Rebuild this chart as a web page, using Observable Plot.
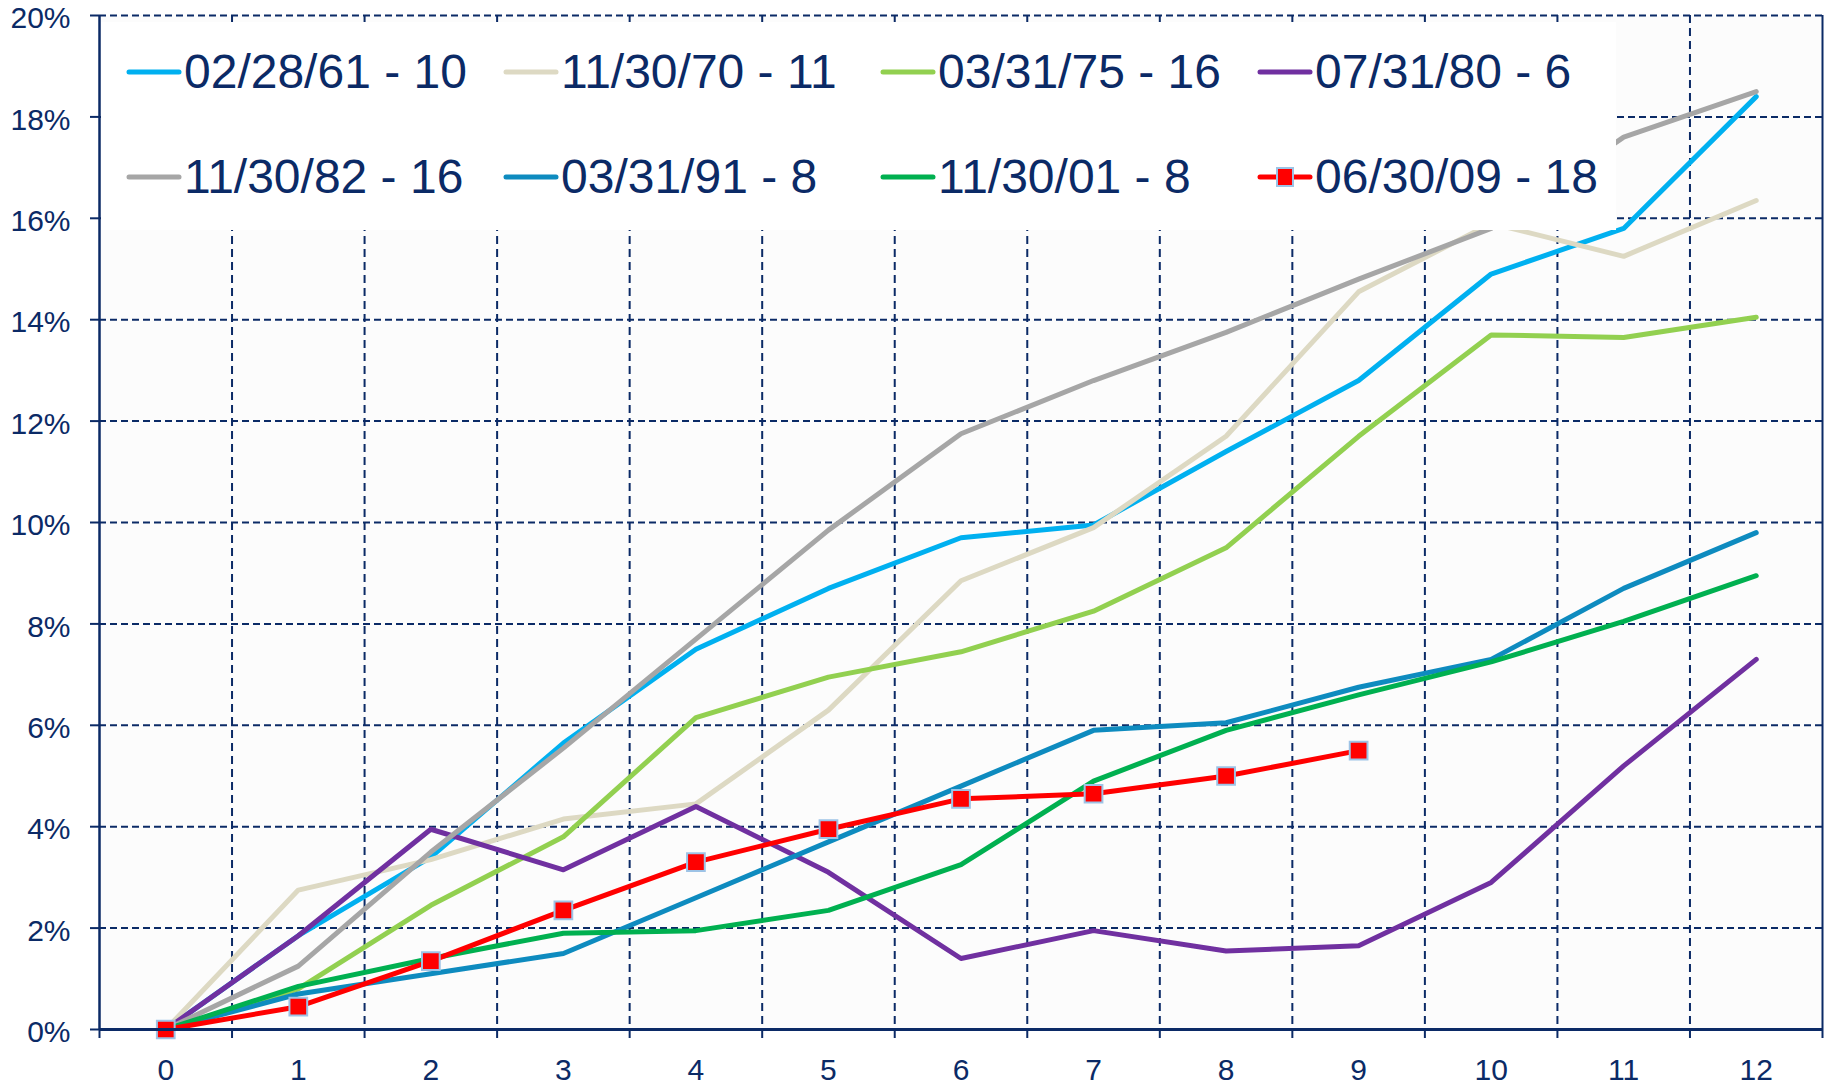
<!DOCTYPE html>
<html><head><meta charset="utf-8">
<script src="https://cdn.jsdelivr.net/npm/d3@7"></script>
<script src="https://cdn.jsdelivr.net/npm/@observablehq/plot@0.6"></script>
<style>
body{margin:0;background:#fff;font-family:"Liberation Sans",Arial,sans-serif;}
#wrap{position:relative;width:1829px;height:1085px;overflow:hidden;background:#fff}
#legend{position:absolute;left:101px;top:22px;width:1515px;height:208px;background:#fff;}
.item{position:absolute;display:flex;align-items:center;height:60px;font-size:48px;color:#0b2a66;white-space:nowrap;line-height:1}
.item svg{display:block;margin-right:1px}
</style></head><body><div id="wrap"></div>
<script>
// ---- data ----
const categories = [0,1,2,3,4,5,6,7,8,9,10,11,12];
const yTicks = [0,2,4,6,8,10,12,14,16,18,20];
const seriesNames = ["02/28/61 - 10","11/30/70 - 11","03/31/75 - 16","07/31/80 - 6","11/30/82 - 16","03/31/91 - 8","11/30/01 - 8","06/30/09 - 18"];
const seriesColors = ["#00b0f0","#ddd9c3","#92d050","#7030a0","#a6a6a6","#0e8bbf","#00b050","#ff0000"];
const s1961 = [0,1.85,3.4,5.65,7.5,8.7,9.7,9.95,11.4,12.8,14.9,15.8,18.4];
const s1970 = [0,2.75,3.35,4.15,4.45,6.3,8.85,9.9,11.7,14.55,15.9,15.25,16.35];
const s1975 = [0,0.8,2.45,3.8,6.15,6.95,7.45,8.25,9.5,11.7,13.7,13.65,14.05];
const s1980 = [0,1.85,3.95,3.15,4.4,3.1,1.4,1.95,1.55,1.65,2.9,5.2,7.3];
const s1982 = [0,1.25,3.5,5.55,7.7,9.85,11.75,12.8,13.75,14.8,15.8,17.6,18.5];
const s1991 = [0,0.7,1.1,1.5,2.6,3.7,4.8,5.9,6.05,6.75,7.3,8.7,9.8];
const s2001 = [0,0.85,1.4,1.9,1.95,2.35,3.25,4.9,5.9,6.6,7.25,8.05,8.95];
const s2009 = [0,0.45,1.35,2.35,3.3,3.95,4.55,4.65,5.0,5.5];
const seriesValues = [s1961,s1970,s1975,s1980,s1982,s1991,s2001,s2009];

// ---- build ----
const navy = "#0b2a66";
const rows = [];
seriesNames.forEach((name, i) => seriesValues[i].forEach((v, j) => rows.push({series: name, x: categories[j], y: v})));
const markerSeries = seriesNames[7];
const bounds = categories.map(c => c + 0.5);
const lo = categories[0] - 0.5, hi = categories[categories.length - 1] + 0.5;

const chart = Plot.plot({
  width: 1829, height: 1085,
  marginLeft: 99, marginRight: 7, marginTop: 15, marginBottom: 56,
  x: {type: "linear", domain: [lo, hi]},
  y: {domain: [0, 20]},
  color: {domain: seriesNames, range: seriesColors},
  style: {color: navy, fontFamily: "'Liberation Sans', Arial, sans-serif", fontSize: "30px", background: "#fff", overflow: "visible"},
  marks: [
    Plot.frame({fill: "#fcfcfc", stroke: null}),
    Plot.ruleY(yTicks.filter(d => d > 0), {stroke: navy, strokeWidth: 2, strokeDasharray: "7,4"}),
    Plot.ruleX(bounds.slice(0, -1), {stroke: navy, strokeWidth: 2, strokeDasharray: "8,5"}),
    Plot.ruleX([hi], {stroke: navy, strokeWidth: 2}),
    Plot.line(rows, {x: "x", y: "y", z: "series", stroke: "series", strokeWidth: 5, strokeLinejoin: "round", strokeLinecap: "round"}),
    Plot.dot(rows.filter(d => d.series === markerSeries), {x: "x", y: "y", symbol: "square", r: 10, fill: "#ff0000", stroke: "#9dc3e6", strokeWidth: 2}),
    Plot.ruleX([lo], {stroke: navy, strokeWidth: 2.5}),
    Plot.ruleY([0], {stroke: navy, strokeWidth: 3}),
    Plot.axisY({ticks: yTicks, tickSize: 9, strokeWidth: 2, tickFormat: () => "", label: null}),
    Plot.axisY({ticks: yTicks, tickSize: 0, tickPadding: 29, dy: 3, tickFormat: d => d + "%", label: null}),
    Plot.axisX({ticks: [lo, ...bounds], tickSize: 9, strokeWidth: 2, tickFormat: () => "", label: null}),
    Plot.axisX({ticks: categories, tickSize: 0, tickPadding: 29, tickFormat: d => String(d), label: null})
  ]
});
const wrap = document.getElementById("wrap");
wrap.appendChild(chart);

// ---- legend overlay ----
const legend = document.createElement("div");
legend.id = "legend";
wrap.appendChild(legend);
seriesNames.forEach((name, i) => {
  const col = i % 4, row = Math.floor(i / 4);
  const item = document.createElement("div");
  item.className = "item";
  item.style.left = (24 + col * 377) + "px";
  item.style.top = (row === 0 ? 20 : 125) + "px";
  const isMarker = name === markerSeries;
  item.innerHTML = `<svg width="58" height="24"><line x1="4" x2="54" y1="12" y2="12" stroke="${seriesColors[i]}" stroke-width="5" stroke-linecap="round"/>${isMarker ? `<rect x="21" y="3" width="16" height="18" fill="#ff0000" stroke="#9dc3e6" stroke-width="2"/>` : ""}</svg><span>${name}</span>`;
  legend.appendChild(item);
});
</script>
</body></html>
